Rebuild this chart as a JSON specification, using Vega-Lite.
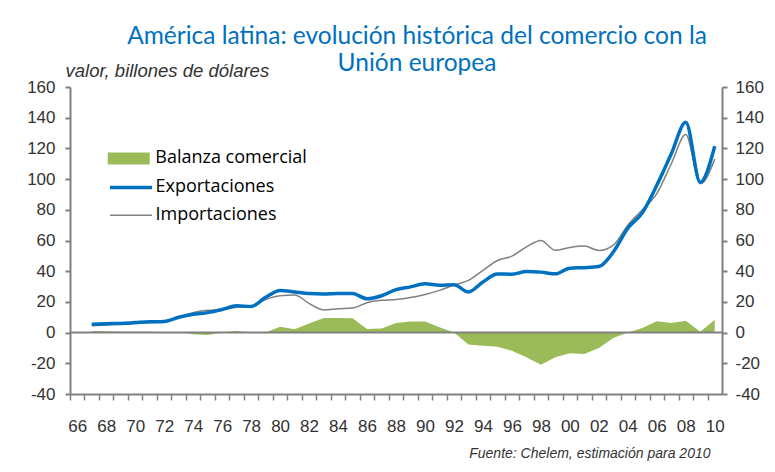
{
  "$schema": "https://vega.github.io/schema/vega-lite/v6.json",
  "width": 652,
  "height": 307,
  "autosize": {"type": "none"},
  "padding": {"left": 70, "top": 87, "right": 53, "bottom": 78},
  "background": "white",
  "title": {
    "text": ["América latina: evolución histórica del comercio con la", "Unión europea"],
    "color": "#0070C0",
    "font": "Lato",
    "fontSize": 24.5,
    "fontWeight": "normal",
    "anchor": "middle",
    "frame": "group",
    "dx": 21,
    "dy": 28,
    "offset": 13,
    "lineHeight": 27
  },
  "data": {
    "values": [
      {"year": 1967, "Exportaciones": 5.5, "Importaciones": 4.5, "Balanza comercial": 1.0},
      {"year": 1968, "Exportaciones": 5.8, "Importaciones": 5.0, "Balanza comercial": 0.8},
      {"year": 1969, "Exportaciones": 6.0, "Importaciones": 5.5, "Balanza comercial": 0.5},
      {"year": 1970, "Exportaciones": 6.5, "Importaciones": 6.0, "Balanza comercial": 0.5},
      {"year": 1971, "Exportaciones": 7.0, "Importaciones": 6.5, "Balanza comercial": 0.5},
      {"year": 1972, "Exportaciones": 7.3, "Importaciones": 7.0, "Balanza comercial": 0.3},
      {"year": 1973, "Exportaciones": 10.0, "Importaciones": 9.8, "Balanza comercial": 0.2},
      {"year": 1974, "Exportaciones": 12.0, "Importaciones": 13.0, "Balanza comercial": -1.0},
      {"year": 1975, "Exportaciones": 13.0, "Importaciones": 14.5, "Balanza comercial": -1.5},
      {"year": 1976, "Exportaciones": 15.0, "Importaciones": 15.0, "Balanza comercial": 0.0},
      {"year": 1977, "Exportaciones": 17.5, "Importaciones": 16.5, "Balanza comercial": 1.0},
      {"year": 1978, "Exportaciones": 17.0, "Importaciones": 17.0, "Balanza comercial": 0.0},
      {"year": 1979, "Exportaciones": 23.0, "Importaciones": 21.5, "Balanza comercial": 0.0},
      {"year": 1980, "Exportaciones": 27.5, "Importaciones": 24.0, "Balanza comercial": 3.8},
      {"year": 1981, "Exportaciones": 26.5, "Importaciones": 24.5, "Balanza comercial": 2.2},
      {"year": 1982, "Exportaciones": 25.5, "Importaciones": 19.0, "Balanza comercial": 6.0},
      {"year": 1983, "Exportaciones": 25.2, "Importaciones": 14.8, "Balanza comercial": 9.5},
      {"year": 1984, "Exportaciones": 25.5, "Importaciones": 15.5, "Balanza comercial": 9.5},
      {"year": 1985, "Exportaciones": 25.5, "Importaciones": 16.0, "Balanza comercial": 9.3},
      {"year": 1986, "Exportaciones": 22.0, "Importaciones": 19.5, "Balanza comercial": 2.4},
      {"year": 1987, "Exportaciones": 24.0, "Importaciones": 21.0, "Balanza comercial": 2.6},
      {"year": 1988, "Exportaciones": 28.0, "Importaciones": 21.5, "Balanza comercial": 6.3},
      {"year": 1989, "Exportaciones": 29.8, "Importaciones": 22.8, "Balanza comercial": 7.2},
      {"year": 1990, "Exportaciones": 31.8, "Importaciones": 24.8, "Balanza comercial": 7.2},
      {"year": 1991, "Exportaciones": 30.8, "Importaciones": 27.5, "Balanza comercial": 3.5},
      {"year": 1992, "Exportaciones": 31.2, "Importaciones": 31.0, "Balanza comercial": 0.0},
      {"year": 1993, "Exportaciones": 26.5, "Importaciones": 34.0, "Balanza comercial": -7.8},
      {"year": 1994, "Exportaciones": 33.0, "Importaciones": 40.5, "Balanza comercial": -8.5},
      {"year": 1995, "Exportaciones": 38.2, "Importaciones": 47.0, "Balanza comercial": -9.2},
      {"year": 1996, "Exportaciones": 38.0, "Importaciones": 49.8, "Balanza comercial": -11.8},
      {"year": 1997, "Exportaciones": 39.8, "Importaciones": 55.8, "Balanza comercial": -16.0},
      {"year": 1998, "Exportaciones": 39.4, "Importaciones": 60.0, "Balanza comercial": -21.0},
      {"year": 1999, "Exportaciones": 38.3, "Importaciones": 53.6, "Balanza comercial": -16.0},
      {"year": 2000, "Exportaciones": 42.0, "Importaciones": 55.5, "Balanza comercial": -13.5},
      {"year": 2001, "Exportaciones": 42.3, "Importaciones": 56.4, "Balanza comercial": -14.0},
      {"year": 2002, "Exportaciones": 43.0, "Importaciones": 53.5, "Balanza comercial": -10.0},
      {"year": 2003, "Exportaciones": 52.5, "Importaciones": 57.0, "Balanza comercial": -3.5},
      {"year": 2004, "Exportaciones": 68.0, "Importaciones": 70.0, "Balanza comercial": 0.0},
      {"year": 2005, "Exportaciones": 78.0, "Importaciones": 80.0, "Balanza comercial": 3.0},
      {"year": 2006, "Exportaciones": 96.0, "Importaciones": 90.6, "Balanza comercial": 7.4},
      {"year": 2007, "Exportaciones": 116.5, "Importaciones": 110.0, "Balanza comercial": 6.3},
      {"year": 2008, "Exportaciones": 137.0, "Importaciones": 129.0, "Balanza comercial": 7.8},
      {"year": 2009, "Exportaciones": 98.0, "Importaciones": 97.0, "Balanza comercial": 0.5},
      {"year": 2010, "Exportaciones": 121.5, "Importaciones": 113.0, "Balanza comercial": 8.3}
    ]
  },
  "layer": [
    {
      "transform": [
        {"fold": ["Balanza comercial", "Exportaciones", "Importaciones"], "as": ["serie", "valor"]},
        {"filter": "datum.serie === 'Balanza comercial'"}
      ],
      "mark": {"type": "area", "interpolate": "linear", "opacity": 1},
      "encoding": {
        "x": {
          "field": "year", "type": "quantitative",
          "scale": {"domain": [1965.5, 2010.5], "nice": false, "zero": false},
          "axis": {
            "orient": "bottom",
            "values": [1966,1967,1968,1969,1970,1971,1972,1973,1974,1975,1976,1977,1978,1979,1980,1981,1982,1983,1984,1985,1986,1987,1988,1989,1990,1991,1992,1993,1994,1995,1996,1997,1998,1999,2000,2001,2002,2003,2004,2005,2006,2007,2008,2009,2010],
            "tickOffset": -7.24,
            "labelOffset": 7.24,
            "labelExpr": "datum.value % 2 === 0 ? substring(toString(datum.value), 2, 4) : ''",
            "labelOverlap": false,
            "labelFlush": false,
            "labelBound": false,
            "grid": false,
            "domainColor": "#808080",
            "domainWidth": 2,
            "tickColor": "#808080",
            "tickWidth": 1.5,
            "tickSize": 6,
            "labelFont": "Liberation Sans",
            "labelFontSize": 17,
            "labelColor": "#333333",
            "labelPadding": 18,
            "title": "Fuente: Chelem, estimación para 2010",
            "titleX": 640,
            "titleY": 59,
            "titleAlign": "right",
            "titleBaseline": "middle",
            "titleFont": "Liberation Sans",
            "titleFontStyle": "italic",
            "titleFontWeight": "normal",
            "titleFontSize": 14,
            "titleColor": "#333333"
          }
        },
        "y": {
          "field": "valor", "type": "quantitative",
          "scale": {"domain": [-40, 160], "nice": false},
          "axis": {
            "orient": "left",
            "values": [-40, -20, 0, 20, 40, 60, 80, 100, 120, 140, 160],
            "labelExpr": "'' + datum.value",
            "grid": false,
            "domainColor": "#808080",
            "domainWidth": 2,
            "tickColor": "#808080",
            "tickWidth": 2,
            "tickSize": 5,
            "labelFont": "Liberation Sans",
            "labelFontSize": 17,
            "labelColor": "#333333",
            "labelPadding": 10,
            "title": "valor, billones de dólares",
            "titleAngle": 0,
            "titleAlign": "left",
            "titleBaseline": "middle",
            "titleX": -5,
            "titleY": -17,
            "titleFont": "Liberation Sans",
            "titleFontStyle": "italic",
            "titleFontWeight": "normal",
            "titleFontSize": 18.5,
            "titleColor": "#333333"
          }
        },
        "fill": {
          "field": "serie", "type": "nominal",
          "scale": {"domain": ["Balanza comercial"], "range": ["#9BBB59"]},
          "legend": {
            "orient": "none", "legendX": 49.75, "legendY": 62.4, "title": null, "padding": 0,
            "symbolType": "M-4,-1.14H4V1.14H-4Z", "symbolSize": 110.25, "symbolStrokeWidth": 0,
            "symbolOpacity": 1,
            "labelFont": "Open Sans", "labelFontSize": 18, "labelColor": "#000000",
            "labelOffset": 17.5
          }
        }
      }
    },
    {
      "data": {"values": [{"cero": 0}]},
      "mark": {"type": "rule", "color": "#808080", "strokeWidth": 2},
      "encoding": {
        "y": {"field": "cero", "type": "quantitative", "scale": {"domain": [-40, 160], "nice": false}, "axis": null}
      }
    },
    {
      "transform": [
        {"fold": ["Balanza comercial", "Exportaciones", "Importaciones"], "as": ["serie", "valor"]},
        {"filter": "datum.serie === 'Importaciones'"}
      ],
      "mark": {"type": "line", "interpolate": "monotone"},
      "encoding": {
        "x": {"field": "year", "type": "quantitative", "scale": {"domain": [1965.5, 2010.5], "nice": false, "zero": false}, "axis": null},
        "y": {"field": "valor", "type": "quantitative", "scale": {"domain": [-40, 160], "nice": false}, "axis": null},
        "stroke": {
          "field": "serie", "type": "nominal",
          "scale": {"domain": ["Exportaciones", "Importaciones"], "range": ["#0070C0", "#808080"]},
          "legend": {
            "orient": "none", "legendX": 52, "legendY": 91.4, "title": null, "padding": 0,
            "symbolType": "M-4,0H4", "symbolSize": 110.25,
            "labelFont": "Open Sans", "labelFontSize": 18, "labelColor": "#000000",
            "labelOffset": 15.5, "rowPadding": 9.75
          }
        },
        "strokeWidth": {
          "field": "serie", "type": "nominal",
          "scale": {"type": "ordinal", "domain": ["Exportaciones", "Importaciones"], "range": [3.5, 1.5]},
          "legend": {
            "orient": "none", "legendX": 52, "legendY": 91.4, "title": null, "padding": 0,
            "symbolType": "M-4,0H4", "symbolSize": 110.25,
            "labelFont": "Open Sans", "labelFontSize": 18, "labelColor": "#000000",
            "labelOffset": 15.5, "rowPadding": 9.75
          }
        }
      }
    },
    {
      "transform": [
        {"fold": ["Balanza comercial", "Exportaciones", "Importaciones"], "as": ["serie", "valor"]},
        {"filter": "datum.serie === 'Exportaciones'"}
      ],
      "mark": {"type": "line", "interpolate": "monotone"},
      "encoding": {
        "x": {"field": "year", "type": "quantitative", "scale": {"domain": [1965.5, 2010.5], "nice": false, "zero": false}, "axis": null},
        "y": {
          "field": "valor", "type": "quantitative",
          "scale": {"domain": [-40, 160], "nice": false},
          "axis": {
            "orient": "right",
            "values": [-40, -20, 0, 20, 40, 60, 80, 100, 120, 140, 160],
            "labelExpr": "'' + datum.value",
            "grid": false,
            "domainColor": "#808080",
            "domainWidth": 2,
            "tickColor": "#808080",
            "tickWidth": 2,
            "tickSize": 5,
            "labelFont": "Liberation Sans",
            "labelFontSize": 17,
            "labelColor": "#333333",
            "labelPadding": 8,
            "title": null
          }
        },
        "stroke": {
          "field": "serie", "type": "nominal",
          "scale": {"domain": ["Exportaciones", "Importaciones"], "range": ["#0070C0", "#808080"]},
          "legend": {
            "orient": "none", "legendX": 52, "legendY": 91.4, "title": null, "padding": 0,
            "symbolType": "M-4,0H4", "symbolSize": 110.25,
            "labelFont": "Open Sans", "labelFontSize": 18, "labelColor": "#000000",
            "labelOffset": 15.5, "rowPadding": 9.75
          }
        },
        "strokeWidth": {
          "field": "serie", "type": "nominal",
          "scale": {"type": "ordinal", "domain": ["Exportaciones", "Importaciones"], "range": [3.5, 1.5]},
          "legend": {
            "orient": "none", "legendX": 52, "legendY": 91.4, "title": null, "padding": 0,
            "symbolType": "M-4,0H4", "symbolSize": 110.25,
            "labelFont": "Open Sans", "labelFontSize": 18, "labelColor": "#000000",
            "labelOffset": 15.5, "rowPadding": 9.75
          }
        }
      }
    }
  ],
  "resolve": {"axis": {"x": "independent", "y": "independent"}},
  "config": {
    "view": {"stroke": null},
    "font": "Liberation Sans"
  }
}
